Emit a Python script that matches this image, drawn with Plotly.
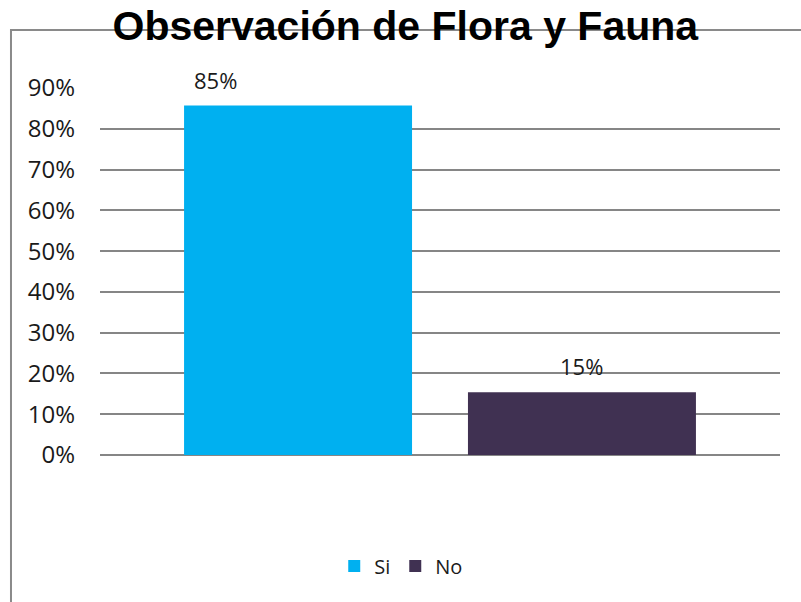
import plotly.graph_objects as go

categories = ["Observación"]
series_names = ["Si", "No"]
values = [0.857, 0.154]
value_labels = ["85%", "15%"]
colors = ["#00B0F0", "#403152"]
y_ticks = [0, 0.1, 0.2, 0.3, 0.4, 0.5, 0.6, 0.7, 0.8, 0.9]

fig = go.Figure()
for name, v, c in zip(series_names, values, colors):
    fig.add_trace(go.Bar(x=categories, y=[v], name=name, marker=dict(color=c, line=dict(width=0))))

label_xshift = [-225, 141]
for v, lab, xs in zip(values, value_labels, label_xshift):
    fig.add_annotation(x=categories[0], y=v, text=lab, showarrow=False, xshift=xs, yshift=26,
                       yanchor="middle", font=dict(family="Open Sans, Liberation Sans", size=22, color="#1a1a1a"))

fig.update_layout(
    width=801, height=602,
    margin=dict(l=100, r=21, t=88, b=147),
    paper_bgcolor="white", plot_bgcolor="white",
    barmode="group", bargap=0.165, bargroupgap=0.197,
    title=dict(text="<b>Observación de Flora y Fauna</b>", x=0.506, xanchor="center", y=0.958, yanchor="middle",
               font=dict(family="Liberation Sans, Arial", size=41, color="black")),
    xaxis=dict(type="category", range=[-0.5, 0.5], showticklabels=False, showgrid=False, zeroline=False,
               showline=False, ticks=""),
    yaxis=dict(range=[0, 0.9], tickvals=y_ticks, tickformat=".0%", showgrid=True, gridcolor="#868686", gridwidth=2,
               zeroline=True, zerolinecolor="#868686", zerolinewidth=2, showline=False, ticks="",
               ticklabelstandoff=24,
               tickfont=dict(family="Open Sans, Liberation Sans", size=24, color="#1a1a1a")),
    legend=dict(orientation="h", x=0.443, xanchor="center", y=-0.3025, yanchor="middle",
                font=dict(family="Open Sans, Liberation Sans", size=20, color="#1a1a1a"),
                itemwidth=30, tracegroupgap=0),
    showlegend=True,
)
fig.add_shape(type="rect", xref="paper", yref="paper", x0=-0.1309, x1=1.05, y0=-0.42, y1=1.158,
              line=dict(color="#8a8a8a", width=2), fillcolor="rgba(0,0,0,0)", layer="below")
fig.write_html("out.html", config={"displayModeBar": False},
               post_script="document.body.style.margin='0';")
